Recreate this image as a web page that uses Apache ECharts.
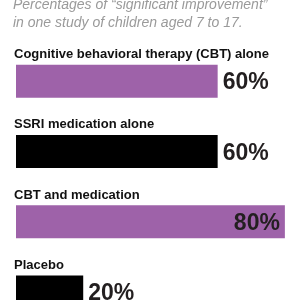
<!DOCTYPE html>
<html>
<head>
<meta charset="utf-8">
<script src="https://cdn.jsdelivr.net/npm/echarts@6/dist/echarts.min.js"></script>
<style>
  html, body { margin: 0; padding: 0; background: #fff; }
  #main { width: 300px; height: 300px; }
</style>
</head>
<body>
<div id="main"></div>
<script>
var subtitle = ['Percentages of \u201csignificant improvement\u201d', 'in one study of children aged 7 to 17.'];
var treatments = ['Cognitive behavioral therapy (CBT) alone', 'SSRI medication alone', 'CBT and medication', 'Placebo'];
var improvement = [60, 60, 80, 20];
var barColors = ['#9e62a9', '#000000', '#9e62a9', '#000000'];

var chart = echarts.init(document.getElementById('main'));

var seriesData = [];
for (var i = 0; i < improvement.length; i++) {
    var inside = improvement[i] >= 75;
    seriesData.push({
        value: improvement[i],
        itemStyle: { color: barColors[i] },
        label: {
            position: inside ? 'insideRight' : 'right',
            distance: 5
        }
    });
}

chart.setOption({
    animation: false,
    title: {
        text: subtitle.join('\n'),
        left: 13,
        top: -4,
        padding: 0,
        textStyle: {
            fontFamily: '"Liberation Sans", sans-serif',
            fontStyle: 'italic',
            fontWeight: 'normal',
            fontSize: 14,
            lineHeight: 18,
            color: '#9a9a9a'
        }
    },
    grid: { left: 16, right: 0, top: 46, bottom: -27, outerBoundsMode: 'none' },
    xAxis: {
        type: 'value',
        min: 0,
        max: 84.5,
        show: false
    },
    yAxis: {
        type: 'category',
        inverse: true,
        data: treatments,
        axisLine: { show: false },
        axisTick: { show: false },
        axisLabel: {
            inside: true,
            margin: -2,
            align: 'left',
            verticalAlign: 'bottom',
            padding: [0, 0, 20, 0],
            fontFamily: '"Liberation Sans", sans-serif',
            fontWeight: 'bold',
            fontSize: 13,
            color: '#111'
        }
    },
    series: [{
        type: 'bar',
        barWidth: 33,
        data: seriesData,
        label: {
            show: true,
            formatter: '{c}%',
            offset: [0, 2],
            fontFamily: '"Liberation Sans", sans-serif',
            fontWeight: 'bold',
            fontSize: 23,
            color: '#231f20'
        }
    }]
});
</script>
</body>
</html>
